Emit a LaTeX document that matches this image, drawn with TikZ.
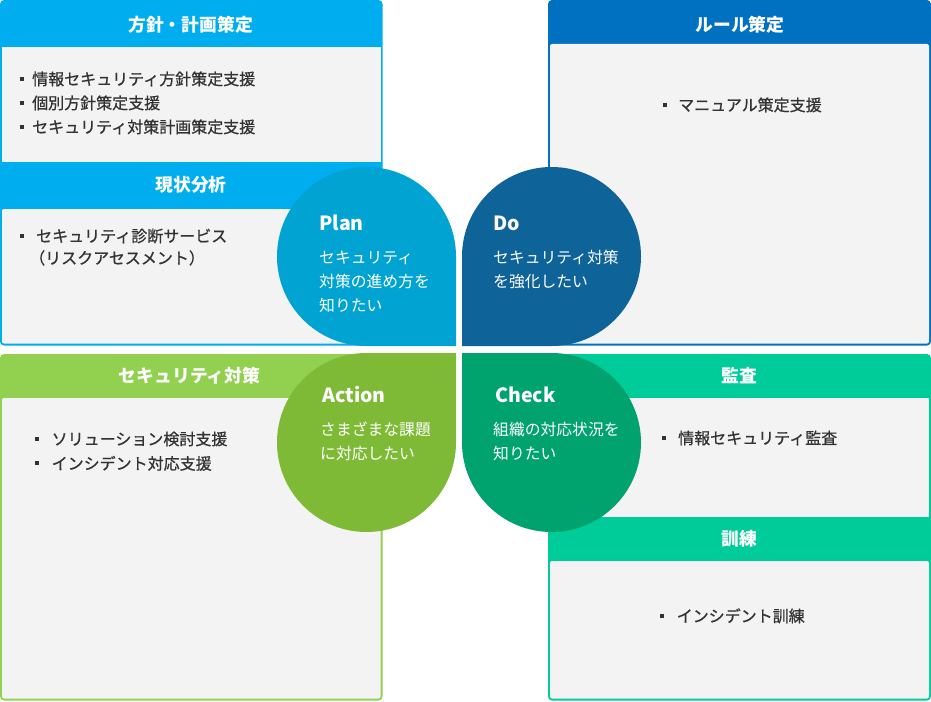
\documentclass[tikz,border=0pt]{standalone}
\usepackage{fontspec}
\setmainfont{Noto Sans CJK JP}
\newfontfamily\itemfont{Noto Sans CJK JP}[FakeBold=0.8]
\usepackage{tikz}
\definecolor{tlblue}{HTML}{00AEEF}
\definecolor{trblue}{HTML}{0070C0}
\definecolor{blgreen}{HTML}{92D050}
\definecolor{brgreen}{HTML}{00CC99}
\definecolor{plancol}{HTML}{00A3D2}
\definecolor{docol}{HTML}{0E6399}
\definecolor{actcol}{HTML}{7FBA36}
\definecolor{chkcol}{HTML}{00A36E}
\definecolor{boxgray}{HTML}{F3F3F3}
\definecolor{itemgray}{HTML}{333333}
\newcommand{\sqbullet}[1][8pt]{\rule[4.5pt]{4pt}{4pt}\hspace{#1}}

\begin{document}
\begin{tikzpicture}[x=1pt,y=-1pt,
  hdr/.style={text=white, font=\fontsize{17.8}{20}\selectfont\bfseries, anchor=base, inner sep=0pt},
  itm/.style={text=itemgray, font=\itemfont\fontsize{16}{22}\selectfont, anchor=base west, inner sep=0pt},
  ttl/.style={text=white, font=\fontsize{19.5}{24}\selectfont\bfseries, anchor=base west, inner sep=0pt},
  sub/.style={text=white, font=\fontsize{15.8}{24}\selectfont, anchor=base west, inner sep=0pt}]

\useasboundingbox (0,0) rectangle (931,701);

% boxes
\fill[tlblue, rounded corners=4pt] (0,0) rectangle (382.5,345.5);
\fill[boxgray] (2,47) rectangle (380.5,162);
\fill[boxgray, rounded corners=2pt] (2,209) rectangle (380.5,343.5);

\fill[trblue, rounded corners=4pt] (548,0) rectangle (931,345.5);
\fill[boxgray, rounded corners=2pt] (550,44) rectangle (929,343.5);

\fill[blgreen, rounded corners=4pt] (0,354) rectangle (382.5,700.5);
\fill[boxgray, rounded corners=2pt] (2,398) rectangle (380.5,698.5);

\fill[brgreen, rounded corners=4pt] (548,354) rectangle (931,700.5);
\fill[boxgray] (550,398) rectangle (929,517);
\fill[boxgray, rounded corners=2pt] (550,561) rectangle (929,698.5);

\node[hdr] (hpolicy) at (190.5,32) {方針・計画策定};
\node[hdr] (hstatus) at (191,191.5) {現状分析};
\node[hdr] (hrule) at (740,32) {ルール策定};
\node[hdr] (hmeasure) at (189.5,382) {セキュリティ対策};
\node[hdr] (haudit) at (739,382) {監査};
\node[hdr] (htrain) at (739,545) {訓練};

\node[itm] (ipolicy1) at (20,85) {\sqbullet 情報セキュリティ方針策定支援};
\node[itm] (ipolicy2) at (20,109) {\sqbullet 個別方針策定支援};
\node[itm] (ipolicy3) at (20,133) {\sqbullet セキュリティ対策計画策定支援};
\node[itm] (istatus1) at (20,242) {\sqbullet[12pt]セキュリティ診断サービス};
\node[itm] (istatus2) at (29,264) {（リスクアセスメント）};
\node[itm] (irule) at (663,111) {\sqbullet[11pt]マニュアル策定支援};
\node[itm] (imeasure1) at (35,445) {\sqbullet[12.5pt]ソリューション検討支援};
\node[itm] (imeasure2) at (35,469.5) {\sqbullet[12.5pt]インシデント対応支援};
\node[itm] (iaudit) at (662,444) {\sqbullet[12pt]情報セキュリティ監査};
\node[itm] (itrain) at (660,622) {\sqbullet[12.5pt]インシデント訓練};

% petals
\coordinate (cplan) at (366.5,256.5);
\coordinate (cdo) at (551.5,256.5);
\coordinate (cact) at (366.5,442.5);
\coordinate (cchk) at (551.5,442.5);

\fill[plancol] (366.5,346) arc[start angle=90, end angle=360, radius=89.5] -- (456,346) -- cycle;
\fill[docol] (462,256.5) arc[start angle=180, end angle=450, radius=89.5] -- (462,346) -- cycle;
\fill[actcol] (456,442.5) arc[start angle=0, end angle=270, radius=89.5] -- (456,353) -- cycle;
\fill[chkcol] (551.5,353) arc[start angle=270, end angle=540, radius=89.5] -- (462,353) -- cycle;

\node[ttl] (tplan) at (319,230) {Plan};
\node[sub] (splan1) at (319,263.5) {セキュリティ};
\node[sub] (splan2) at (319,287.5) {対策の進め方を};
\node[sub] (splan3) at (319,311.5) {知りたい};

\node[ttl] (tdo) at (493,230) {Do};
\node[sub] (sdo1) at (493,263.5) {セキュリティ対策};
\node[sub] (sdo2) at (493,287.5) {を強化したい};

\node[ttl] (tact) at (322,402) {Action};
\node[sub] (sact1) at (320,435.5) {さまざまな課題};
\node[sub] (sact2) at (320,459.5) {に対応したい};

\node[ttl] (tchk) at (495,402) {Check};
\node[sub] (schk1) at (493,435.5) {組織の対応状況を};
\node[sub] (schk2) at (493,459.5) {知りたい};

\end{tikzpicture}
\end{document}
